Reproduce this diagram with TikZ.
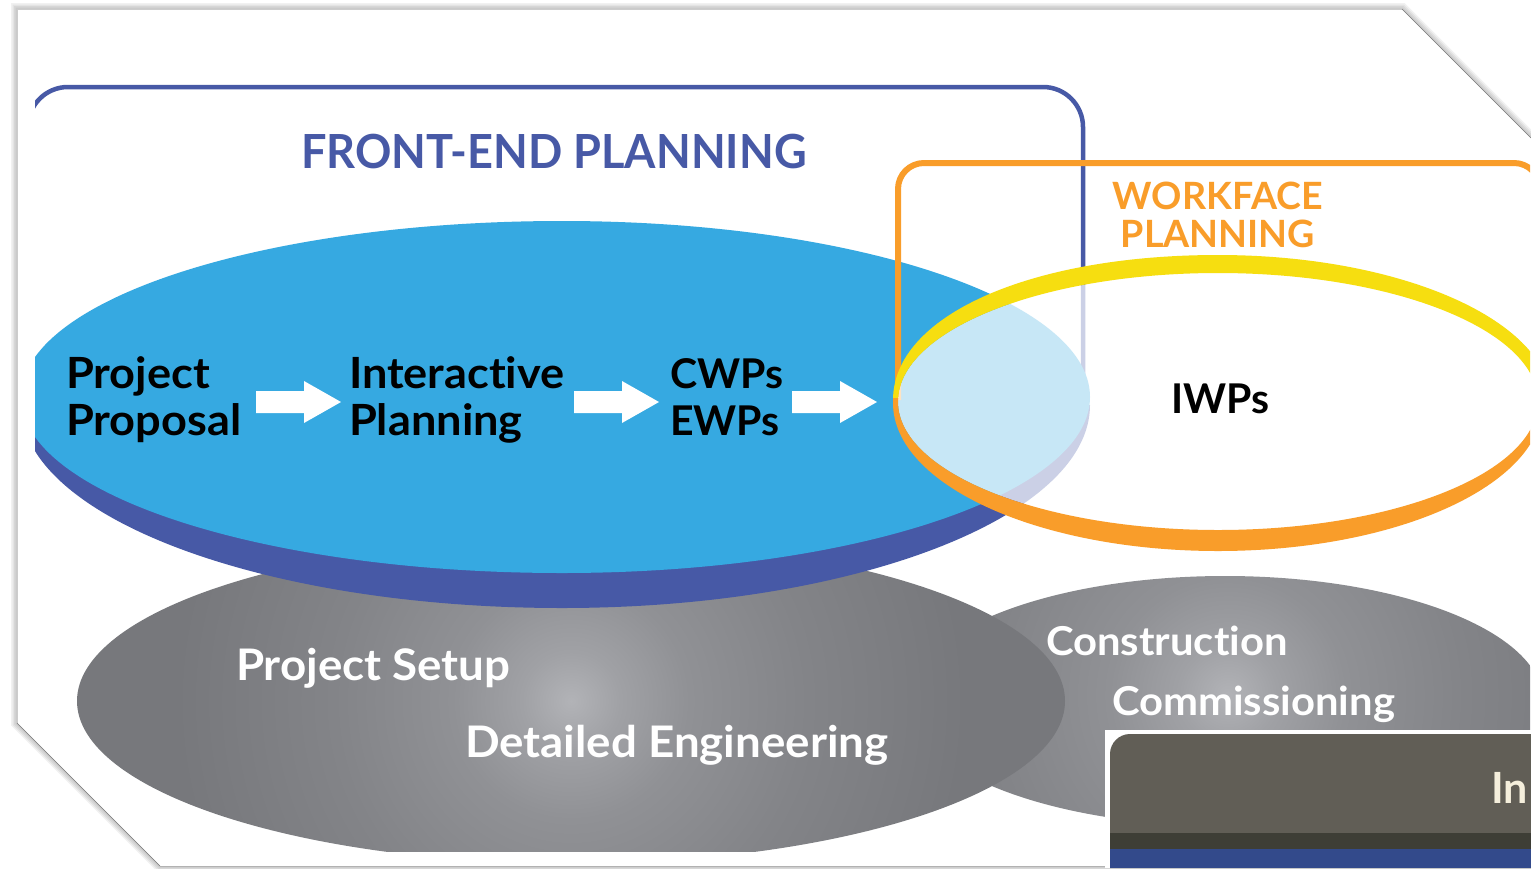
\documentclass[tikz,border=0pt]{standalone}
\usepackage{fontspec}
\newfontfamily\labf[Ligatures=CommonOff]{Lato}
\newfontfamily\labw[Ligatures=CommonOff,FakeStretch=1.05]{Lato}
\newfontfamily\labn[Ligatures=CommonOff,FakeStretch=0.96]{Lato}
\setmainfont{Lato}
\definecolor{cBlue}{HTML}{36A9E1}
\definecolor{cDeep}{HTML}{4759A6}
\definecolor{cYellow}{HTML}{F6DE10}
\definecolor{cOrange}{HTML}{F99D2A}
\definecolor{cGrayA}{HTML}{B2B3B7}
\definecolor{cGrayB}{HTML}{A0A1A5}
\definecolor{cGrayD}{HTML}{909195}
\definecolor{cGrayE}{HTML}{838488}
\definecolor{cGrayC}{HTML}{77787C}
\definecolor{cPanel}{HTML}{615E56}
\definecolor{cBand}{HTML}{3E3E36}
\definecolor{cStrip}{HTML}{334A8B}
\definecolor{cCream}{HTML}{F5EFDC}
\pgfdeclareradialshading{grayglow}{\pgfpoint{0bp}{0bp}}{color(0bp)=(cGrayA); color(2.5bp)=(cGrayB); color(6bp)=(cGrayD); color(12bp)=(cGrayE); color(20bp)=(cGrayC); color(50bp)=(cGrayC)}
\tikzset{
  txt/.style={inner sep=0pt,outer sep=0pt,anchor=base west,align=left},
  blacktxt/.style={txt,text=black,font=\labw\bfseries\fontsize{43}{47}\selectfont},
  blackshort/.style={txt,text=black,font=\labf\bfseries\fontsize{41}{47}\selectfont},
  whitelarge/.style={txt,text=white,font=\labw\bfseries\fontsize{43.5}{44}\selectfont},
  whitesmall/.style={txt,text=white,font=\labw\bfseries\fontsize{39.8}{40}\selectfont},
  blockarrow/.style={fill=white},
  sheetline/.style={line join=miter}
}
\newcommand{\sheetpath}{(17,9) -- (1402,9) -- (1550,157) -- (1550,866) -- (160,866) -- (17,723) -- cycle}
\newcommand{\ringpath}{(1218,255) .. controls (1029.5,255) and (893,316) .. (893,400)
  -- (893,403) arc[start angle=180,end angle=90,x radius=325pt,y radius=148pt]
  arc[start angle=90,end angle=0,x radius=325pt,y radius=148pt]
  -- (1551,403) arc[start angle=0,end angle=-90,x radius=333pt,y radius=148pt] -- cycle
  (1218,401.5) ellipse [x radius=320pt,y radius=128.5pt]}
\begin{document}
\begin{tikzpicture}[x=1pt,y=1pt,yscale=-1]
\useasboundingbox (0,0) rectangle (1531,868);
\fill[white] (0,0) rectangle (1531,868);
% sheet with soft shadow
\foreach \w in {12,9,6,3}{\draw[black,opacity=.055,line width=\w pt,sheetline] \sheetpath;}
\fill[white] \sheetpath;
\draw[black!20,line width=.6pt] (17,723) -- (17,9) -- (1402,9);
\draw[black!30,line width=.7pt] (160,866) -- (1531,866);
\draw[black!55,line width=.6pt] (1402,9) -- (1531,138);
\draw[black!55,line width=.6pt] (17,723) -- (160,866);
% grey ellipses
\begin{scope}
\clip (35,0) rectangle (1530,851);
\clip (1225,701) ellipse [x radius=318pt,y radius=125pt];
\shade[shading=grayglow] (1228,695) circle [radius=494pt];
\end{scope}
\begin{scope}
\clip (35,0) rectangle (1530,851);
\clip (571,701) ellipse [x radius=494pt,y radius=162.5pt];
\shade[shading=grayglow] (571,701) circle [radius=494pt];
\end{scope}
\begin{scope}
\clip (35,0) rectangle (1530,868);
% front-end frame
\draw[cDeep,line width=4.5pt,rounded corners=40pt] (28,420) |- (1083,87) -- (1083,420);
% blue disc
\fill[cDeep] (21,405) arc[start angle=180,end angle=90,x radius=541pt,y radius=203pt]
   arc[start angle=90,end angle=0,x radius=528pt,y radius=203pt] -- cycle;
\fill[cBlue] (562,221) arc[start angle=270,end angle=90,x radius=541pt,y radius=176pt]
   arc[start angle=90,end angle=-90,x radius=528pt,y radius=176pt] -- cycle;
% workface frame
\draw[cOrange,line width=6pt,rounded corners=26pt] (898,400) |- (1540,163) -- (1540,400);
% translucent white interior of the ring
\fill[white,opacity=.72] (1218,401.5) ellipse [x radius=320pt,y radius=128.5pt];
% ring
\begin{scope}
\clip (880,230) rectangle (1530,398);
\fill[cYellow,even odd rule] \ringpath;
\end{scope}
\begin{scope}
\clip (880,398) rectangle (1530,560);
\fill[cOrange,even odd rule] \ringpath;
\end{scope}
\end{scope}
% block arrows
\foreach \ax in {256,574,792}{
  \fill[blockarrow] (\ax,391) -- ++(48,0) -- ++(0,-10) -- ++(37,21) -- ++(-37,21) -- ++(0,-10) -- ++(-48,0) -- cycle;
}
% bottom-right panel
\fill[white] (1105,730) rectangle (1531,868);
\fill[cPanel] (1110,868) -- (1110,754) arc[start angle=180,end angle=270,radius=20pt] -- (1531,734) -- (1531,868) -- cycle;
\fill[cBand] (1110,833) rectangle (1531,849);
\fill[cStrip] (1110,849) rectangle (1531,868);
% texts
\node[txt,text=cDeep,font=\labn\bfseries\fontsize{47}{48}\selectfont] (fep) at (301,168) {FRONT-END PLANNING};
\node[txt,text=cOrange,font=\labf\bfseries\fontsize{37.6}{38}\selectfont,align=center,anchor=base] (wfp) at (1218,247) {WORKFACE\\PLANNING};
\node[blacktxt] (pp) at (66,435) {Project\\Proposal};
\node[blacktxt] (ip) at (349,435) {Interactive\\Planning};
\node[blackshort] (ce) at (670,435) {CWPs\\EWPs};
\node[blackshort] (iwp) at (1171,413) {IWPs};
\node[whitelarge] (ps) at (236,680) {Project Setup};
\node[whitelarge] (de) at (465,757) {Detailed Engineering};
\node[whitesmall] (con) at (1046,655) {Construction};
\node[whitesmall] (com) at (1112,715) {Commissioning};
\node[txt,text=cCream,font=\labf\bfseries\fontsize{43}{43}\selectfont] (inn) at (1491,803) {In};
\end{tikzpicture}
\end{document}
